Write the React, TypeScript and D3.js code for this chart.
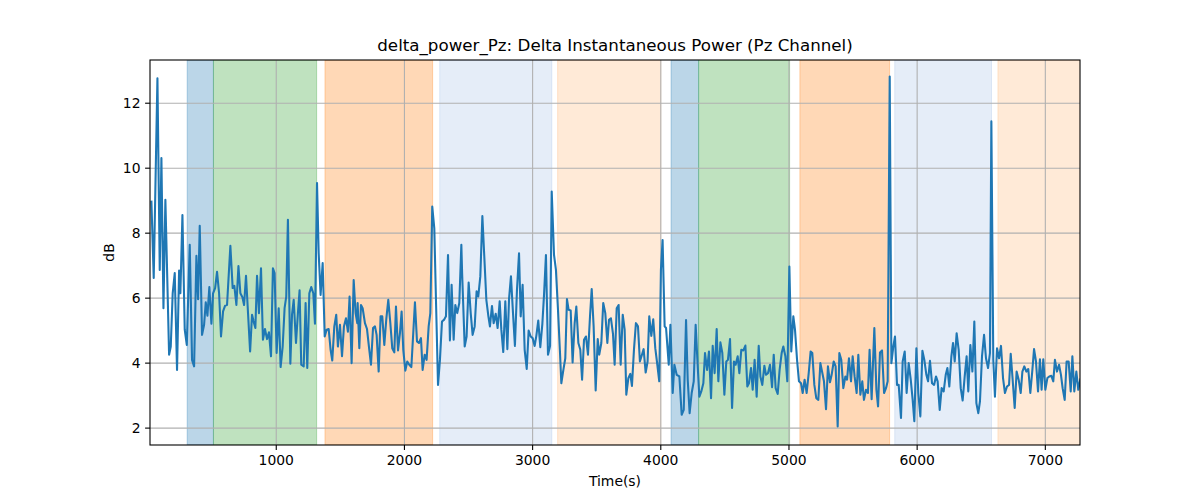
import React from 'react';
import * as d3 from 'd3';

// Labelled segments (seconds) shaded behind the trace
const spanKinds = ['blue', 'green', 'orange', 'pale blue', 'pale orange', 'blue', 'green', 'orange', 'pale blue', 'pale orange'];
const spanStarts = [305, 510, 1380, 2275, 3195, 4080, 4295, 5085, 5825, 6630];
const spanEnds = [510, 1315, 2220, 3150, 4000, 4295, 5005, 5785, 6580, 7320];

// Delta instantaneous power, Pz channel: time (s) and dB
const times = [
  26, 44, 73, 91, 104, 120, 135, 164, 177, 192, 208, 226, 242, 252, 268, 286, 302, 325, 343, 359,
  377, 390, 403, 421, 437, 450, 463, 478, 494, 507, 523, 538, 554, 569, 585, 601, 616, 642, 660, 673,
  689, 705, 720, 736, 749, 764, 780, 796, 811, 827, 837, 850, 865, 881, 896, 912, 928, 943, 959, 974,
  987, 1003, 1019, 1034, 1050, 1065, 1078, 1091, 1110, 1123, 1136, 1154, 1169, 1182, 1195, 1214, 1229, 1242, 1258, 1273,
  1289, 1302, 1318, 1331, 1346, 1362, 1378, 1393, 1409, 1424, 1437, 1453, 1468, 1481, 1497, 1513, 1528, 1544, 1559, 1572,
  1588, 1604, 1619, 1632, 1635, 1648, 1661, 1674, 1692, 1708, 1723, 1739, 1755, 1770, 1783, 1799, 1814, 1827, 1843, 1859,
  1874, 1890, 1905, 1921, 1934, 1950, 1965, 1978, 1991, 2007, 2022, 2038, 2054, 2069, 2082, 2098, 2113, 2129, 2142, 2158,
  2173, 2189, 2202, 2217, 2233, 2246, 2262, 2277, 2293, 2308, 2324, 2340, 2355, 2368, 2384, 2397, 2412, 2428, 2444, 2450,
  2470, 2485, 2501, 2517, 2532, 2548, 2563, 2576, 2592, 2608, 2623, 2639, 2655, 2667, 2683, 2696, 2712, 2727, 2743, 2756,
  2771, 2787, 2803, 2816, 2831, 2847, 2862, 2878, 2894, 2907, 2922, 2938, 2954, 2969, 2985, 3000, 3016, 3029, 3044, 3060,
  3076, 3089, 3104, 3120, 3136, 3149, 3167, 3182, 3198, 3214, 3224, 3240, 3255, 3268, 3281, 3297, 3312, 3328, 3341, 3357,
  3372, 3386, 3401, 3416, 3432, 3448, 3461, 3476, 3492, 3508, 3520, 3536, 3551, 3567, 3583, 3596, 3611, 3627, 3640, 3656,
  3671, 3687, 3703, 3718, 3731, 3747, 3762, 3775, 3791, 3806, 3822, 3837, 3853, 3866, 3882, 3897, 3910, 3926, 3941, 3957,
  3973, 3988, 4001, 4014, 4030, 4041, 4062, 4075, 4093, 4106, 4124, 4145, 4163, 4179, 4197, 4210, 4225, 4241, 4257, 4272,
  4288, 4301, 4316, 4332, 4345, 4361, 4376, 4392, 4405, 4420, 4436, 4449, 4465, 4480, 4496, 4511, 4524, 4540, 4556, 4571,
  4584, 4600, 4613, 4628, 4644, 4660, 4675, 4688, 4704, 4717, 4732, 4748, 4764, 4777, 4792, 4808, 4821, 4836, 4852, 4868,
  4881, 4896, 4912, 4927, 4943, 4956, 4972, 4987, 5003, 5018, 5034, 5047, 5063, 5078, 5094, 5107, 5122, 5138, 5154, 5169,
  5182, 5198, 5213, 5229, 5245, 5258, 5273, 5289, 5304, 5320, 5333, 5349, 5364, 5380, 5393, 5408, 5424, 5440, 5453, 5468,
  5484, 5497, 5512, 5528, 5541, 5557, 5572, 5585, 5601, 5616, 5629, 5645, 5666, 5682, 5695, 5710, 5726, 5742, 5757, 5770,
  5786, 5799, 5814, 5827, 5843, 5856, 5874, 5887, 5903, 5918, 5934, 5950, 5965, 5978, 5994, 6009, 6025, 6041, 6056, 6072,
  6085, 6100, 6116, 6132, 6147, 6160, 6176, 6191, 6207, 6223, 6236, 6251, 6267, 6280, 6293, 6308, 6324, 6340, 6355, 6371,
  6386, 6399, 6415, 6431, 6446, 6462, 6477, 6490, 6506, 6522, 6537, 6553, 6568, 6579, 6594, 6607, 6623, 6639, 6654, 6670,
  6685, 6701, 6717, 6730, 6745, 6761, 6776, 6792, 6808, 6821, 6836, 6852, 6867, 6883, 6899, 6912, 6927, 6943, 6958, 6971,
  6984, 7000, 7016, 7031, 7047, 7062, 7075, 7091, 7107, 7122, 7135, 7151, 7166, 7182, 7198, 7211, 7226, 7242, 7257, 7273
];
const power = [
  8.97, 6.62, 12.77, 6.87, 10.31, 5.69, 9.03, 4.26, 4.51, 6.15, 6.77, 3.79, 6.85, 6.15, 8.56, 5.03, 4.56, 7.64, 4.10, 3.90,
  7.30, 5.97, 8.23, 4.87, 5.18, 5.87, 5.46, 6.34, 5.21, 6.15, 6.31, 6.81, 6.15, 4.82, 5.59, 5.77, 5.79, 7.61, 6.31, 6.38,
  5.79, 6.99, 6.15, 6.03, 5.79, 6.69, 5.52, 4.36, 5.49, 5.23, 5.08, 6.69, 5.54, 6.92, 4.72, 5.05, 4.74, 4.95, 4.21, 6.92,
  6.77, 4.31, 5.69, 3.88, 4.51, 5.69, 6.05, 8.41, 3.98, 5.49, 5.95, 4.62, 5.54, 6.24, 3.95, 3.90, 5.85, 3.85, 6.15, 6.34,
  6.15, 5.21, 9.54, 7.38, 6.10, 7.08, 4.82, 5.03, 5.05, 4.41, 4.08, 5.13, 5.49, 4.51, 5.18, 4.21, 5.13, 5.38, 4.97, 6.05,
  4.00, 6.56, 5.54, 5.23, 5.85, 4.46, 5.79, 5.69, 5.23, 5.05, 4.51, 3.95, 5.08, 5.13, 4.87, 3.74, 5.44, 5.44, 4.56, 5.38,
  5.95, 5.23, 4.46, 4.33, 5.74, 4.39, 4.92, 5.59, 4.41, 3.77, 4.05, 3.95, 3.88, 4.94, 5.87, 4.67, 4.62, 4.77, 3.79, 4.26,
  4.10, 5.13, 5.54, 8.82, 8.15, 5.95, 3.33, 4.10, 5.28, 5.33, 5.44, 7.33, 4.70, 6.41, 4.72, 5.79, 5.54, 5.85, 7.64, 6.77,
  4.51, 4.82, 6.48, 5.54, 4.87, 5.13, 6.21, 6.05, 6.67, 8.53, 7.28, 5.95, 5.44, 5.13, 5.76, 5.23, 5.52, 5.08, 5.90, 5.03,
  4.34, 5.90, 4.43, 5.97, 6.67, 5.54, 4.53, 6.26, 7.38, 5.44, 6.41, 4.41, 3.82, 5.00, 4.82, 4.77, 4.53, 4.84, 5.31, 4.49,
  5.21, 6.10, 7.33, 4.26, 4.53, 9.28, 7.33, 6.87, 5.64, 4.29, 3.38, 3.79, 4.15, 5.97, 5.64, 5.62, 4.02, 5.23, 5.74, 4.62,
  4.41, 3.49, 4.72, 4.82, 4.26, 5.46, 6.28, 5.13, 3.16, 4.74, 4.26, 4.62, 5.85, 5.54, 4.62, 5.33, 5.38, 4.90, 3.95, 5.69,
  5.79, 3.95, 5.49, 5.03, 3.03, 3.54, 3.67, 3.30, 4.43, 5.23, 5.13, 4.05, 4.26, 4.43, 3.71, 4.05, 5.44, 4.84, 5.35, 4.46,
  3.95, 3.44, 6.87, 7.79, 5.13, 5.08, 3.95, 5.18, 3.08, 3.95, 3.64, 3.59, 2.41, 2.56, 5.33, 3.49, 2.46, 3.08, 3.44, 5.18,
  3.90, 2.97, 3.13, 3.38, 4.31, 3.79, 4.36, 2.92, 4.53, 3.69, 5.05, 3.44, 4.64, 4.31, 3.03, 4.05, 4.10, 4.74, 2.62, 4.05,
  3.95, 4.21, 3.69, 4.41, 4.39, 4.54, 3.28, 3.38, 3.85, 3.18, 4.10, 2.97, 4.53, 3.59, 3.33, 3.92, 3.64, 3.69, 3.95, 3.26,
  4.26, 3.23, 3.05, 3.79, 4.31, 4.51, 4.21, 3.44, 6.97, 4.36, 5.44, 5.03, 4.10, 3.44, 3.38, 3.08, 3.49, 3.08, 3.69, 4.36,
  4.31, 3.33, 2.92, 2.87, 4.00, 3.74, 3.44, 2.58, 3.90, 3.41, 3.64, 4.05, 3.90, 2.05, 4.31, 4.10, 3.23, 3.59, 3.49, 4.15,
  3.44, 4.21, 3.59, 3.08, 4.26, 3.03, 3.44, 2.87, 3.18, 3.08, 4.41, 2.89, 5.08, 3.18, 2.67, 4.33, 4.39, 3.08, 3.23, 3.44,
  12.82, 4.00, 4.51, 4.82, 3.33, 3.33, 2.31, 4.05, 4.36, 3.08, 4.00, 3.49, 2.87, 2.21, 4.46, 3.08, 2.36, 4.38, 4.10, 3.64,
  3.44, 4.07, 3.38, 3.33, 3.59, 3.44, 2.56, 3.23, 3.13, 3.64, 3.85, 3.28, 4.21, 4.62, 4.05, 4.92, 4.41, 3.23, 2.85, 3.59,
  4.21, 3.13, 4.56, 3.74, 5.28, 2.77, 2.46, 2.82, 4.21, 4.87, 4.15, 3.85, 4.31, 11.44, 4.10, 2.97, 4.46, 4.15, 4.53, 3.54,
  3.08, 3.28, 3.33, 4.29, 3.49, 2.62, 3.74, 3.49, 3.08, 3.74, 3.90, 3.74, 3.82, 3.08, 3.79, 4.43, 4.05, 3.13, 4.12, 3.18,
  4.12, 3.18, 3.54, 3.59, 3.61, 3.44, 4.10, 3.74, 3.95, 3.64, 3.23, 2.87, 4.05, 4.05, 3.13, 4.21, 3.13, 3.74, 3.18, 3.50
];

const xTicks = [1000, 2000, 3000, 4000, 5000, 6000, 7000];
const yTicks = [2, 4, 6, 8, 10, 12];

const spanStyle: Record<string, { color: string; opacity: number }> = {
  'blue': { color: '#1f77b4', opacity: 0.3 },
  'green': { color: '#2ca02c', opacity: 0.3 },
  'orange': { color: '#ff7f0e', opacity: 0.3 },
  'pale blue': { color: '#7ea6dc', opacity: 0.2 },
  'pale orange': { color: '#ff9f4a', opacity: 0.22 },
};

const W = 1200, H = 500;
const m = { left: 150, right: 1080, top: 60, bottom: 445 };
const font = '"DejaVu Sans", sans-serif';

export default function App() {
  const x = d3.scaleLinear().domain([15, 7270.5]).range([m.left, m.right]);
  const y = d3.scaleLinear().domain([1.48, 13.33]).range([m.bottom, m.top]);

  const pts = times.map((t, i) => [t, power[i]] as [number, number]);
  const line = d3.line<[number, number]>().x(d => x(d[0])).y(d => y(d[1]));

  return (
    <svg width={W} height={H} style={{ position: 'absolute', left: 0, top: 0, background: '#fff' }} fontFamily={font}>
      <defs>
        <clipPath id="plot">
          <rect x={m.left} y={m.top} width={m.right - m.left} height={m.bottom - m.top} />
        </clipPath>
      </defs>

      {/* shaded segments */}
      <g clipPath="url(#plot)">
        {spanKinds.map((k, i) => {
          const s = spanStyle[k];
          return (
            <rect key={i} x={x(spanStarts[i])} y={m.top} width={x(spanEnds[i]) - x(spanStarts[i])}
              height={m.bottom - m.top} fill={s.color} fillOpacity={s.opacity}
              stroke={s.color} strokeOpacity={s.opacity} strokeWidth={1} />
          );
        })}
      </g>

      {/* grid */}
      <g stroke="#b0b0b0" strokeWidth={1.1}>
        {xTicks.map(t => <line key={t} x1={x(t)} x2={x(t)} y1={m.top} y2={m.bottom} />)}
        {yTicks.map(t => <line key={t} x1={m.left} x2={m.right} y1={y(t)} y2={y(t)} />)}
      </g>

      {/* trace */}
      <path d={line(pts) ?? ''} fill="none" stroke="#1f77b4" strokeWidth={2.08}
        strokeLinejoin="round" strokeLinecap="square" clipPath="url(#plot)" />

      {/* frame */}
      <rect x={m.left} y={m.top} width={m.right - m.left} height={m.bottom - m.top}
        fill="none" stroke="#000" strokeWidth={1.1} />

      {/* x axis */}
      <g fontSize={13.9} fill="#000">
        {xTicks.map(t => (
          <g key={t}>
            <line x1={x(t)} x2={x(t)} y1={m.bottom} y2={m.bottom + 4.9} stroke="#000" strokeWidth={1.1} />
            <text x={x(t)} y={m.bottom + 20} textAnchor="middle">{t}</text>
          </g>
        ))}
        <text x={(m.left + m.right) / 2} y={486} textAnchor="middle">Time(s)</text>
      </g>

      {/* y axis */}
      <g fontSize={13.9} fill="#000">
        {yTicks.map(t => (
          <g key={t}>
            <line x1={m.left - 4.9} x2={m.left} y1={y(t)} y2={y(t)} stroke="#000" strokeWidth={1.1} />
            <text x={m.left - 9.5} y={y(t)} dy="0.35em" textAnchor="end">{t}</text>
          </g>
        ))}
        <text transform={`translate(114,${(m.top + m.bottom) / 2}) rotate(-90)`} textAnchor="middle">dB</text>
      </g>

      <text x={(m.left + m.right) / 2} y={51} textAnchor="middle" fontSize={16.7} fill="#000">
        delta_power_Pz: Delta Instantaneous Power (Pz Channel)
      </text>
    </svg>
  );
}
